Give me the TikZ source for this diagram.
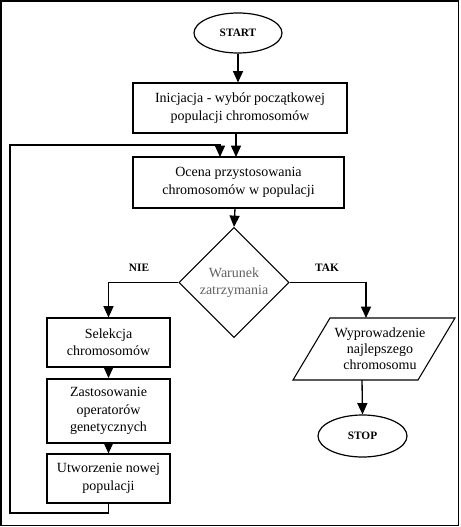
\documentclass[tikz,border=0pt]{standalone}
\usepackage{fontspec}
\setmainfont{Liberation Serif}
\usetikzlibrary{shapes.geometric,arrows.meta}

\tikzset{
  box/.style={draw, line width=0.8pt, rectangle, inner sep=0pt, align=center,
    font=\fontsize{10.5}{13}\selectfont},
  term/.style={draw, line width=0.9pt, ellipse, inner sep=0pt,
    font=\fontsize{8.5}{10}\selectfont\bfseries},
  decision/.style={draw, line width=0.8pt, diamond, inner sep=0pt, align=center,
    text=black!62, font=\fontsize{10.5}{13}\selectfont},
  flow/.style={line width=1pt, -{Triangle[length=8.5pt,width=7.5pt]}},
  branchlabel/.style={font=\fontsize{8.5}{10}\selectfont\bfseries}
}

\begin{document}
\begin{tikzpicture}[x=0.75pt, y=-0.75pt]
  % page extent and outer frame
  \useasboundingbox (0,0) rectangle (460,527);
  \draw[line width=1.1pt] (1,1) rectangle (458.5,525.5);

  % main column
  \node[term, minimum width=66pt, minimum height=30pt] (start) at (238,33) {START};
  \node[box, minimum width=160.5pt, minimum height=37.5pt] (init) at (240,108)
    {Inicjacja - wybór początkowej\\populacji chromosomów};
  \node[box, minimum width=158.25pt, minimum height=38.25pt] (eval) at (238.5,182.5)
    {Ocena przystosowania\\chromosomów w populacji};
  \node[decision, minimum width=82.5pt, minimum height=82.5pt] (cond) at (234,282.5)
    {Warunek\\zatrzymania};

  % left branch
  \node[box, minimum width=92.25pt, minimum height=36.75pt] (sel) at (108.5,342.5)
    {Selekcja\\chromosomów};
  \node[box, line width=1.5pt, minimum width=92.25pt, minimum height=48pt] (gen) at (108.5,411)
    {Zastosowanie\\operatorów\\genetycznych};
  \node[box, minimum width=92.25pt, minimum height=36.75pt] (newpop) at (108.5,478.5)
    {Utworzenie nowej\\populacji};

  % right branch: output parallelogram
  \coordinate (pTL) at (330,318);
  \coordinate (pTR) at (455,318);
  \coordinate (pBR) at (418,380);
  \coordinate (pBL) at (293,380);
  \draw[line width=0.8pt] (pTL) -- (pTR) -- (pBR) -- (pBL) -- cycle;
  \node[align=center, inner sep=0pt, font=\fontsize{10.5}{12}\selectfont] (out) at (380,349)
    {Wyprowadzenie\\najlepszego\\chromosomu};
  \coordinate (outtop) at (366,318);
  \coordinate (outbot) at (362,380);
  \node[term, minimum width=66.75pt, minimum height=31.5pt] (stop) at (362.5,436) {STOP};

  % branch labels
  \node[branchlabel] (nie) at (139,268) {NIE};
  \node[branchlabel] (tak) at (327,268) {TAK};

  % connectors
  \draw[flow] (start.south) -- (start.south |- init.north);
  \draw[flow] (init.south -| 236,0) -- (236,157);
  \draw[flow] (eval.south -| 235,0) -- (cond.north);
  \draw[flow] (cond.west) -| (sel.north);
  \draw[flow] (sel.south) -- (gen.north);
  \draw[flow] (gen.south) -- (newpop.north);
  \draw[flow] (cond.east) -| (outtop);
  \draw[flow] (outbot) -- (stop.north);

  % feedback loop back to the evaluation step
  \coordinate (lpBL) at (10,513);
  \coordinate (lpTL) at (10,145);
  \coordinate (lpIn) at (220,157);
  \draw[line width=0.8pt, -{Triangle[length=8.5pt,width=7.5pt]}]
    (newpop.south) |- (lpBL) -- (lpTL) -| (lpIn);
\end{tikzpicture}
\end{document}
